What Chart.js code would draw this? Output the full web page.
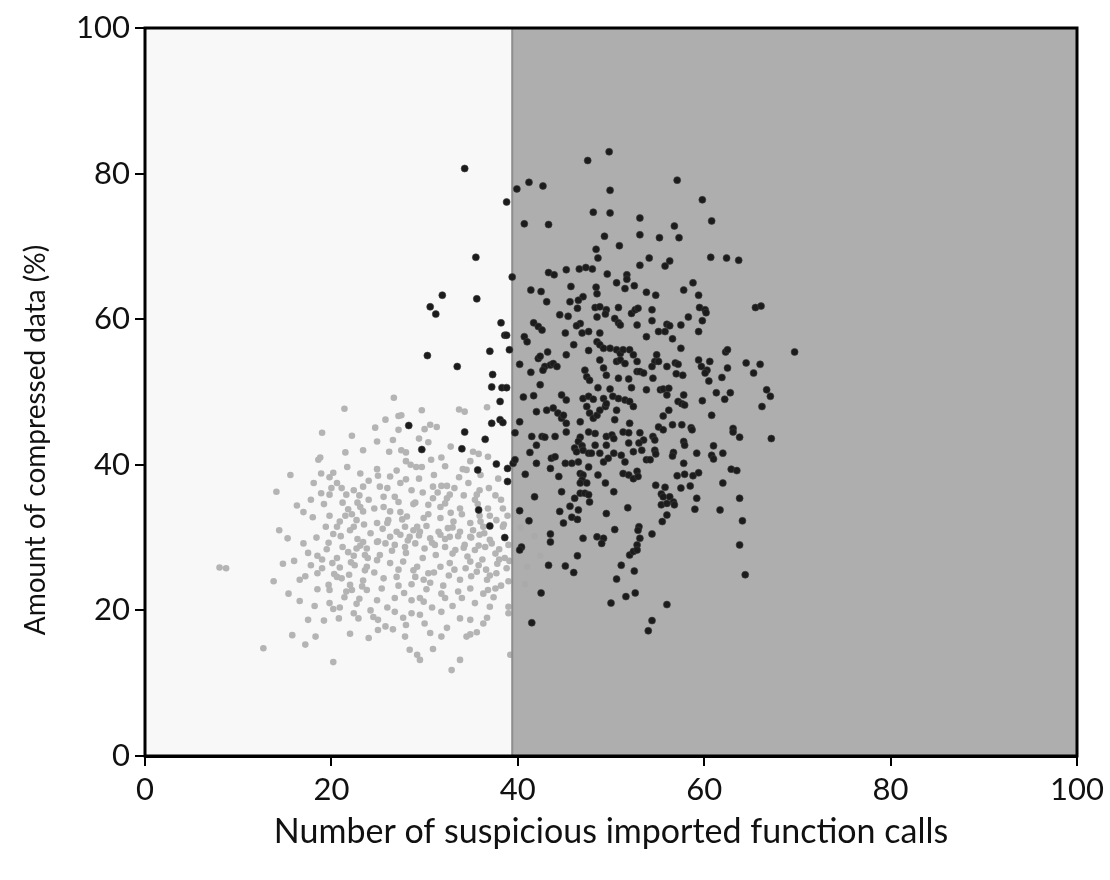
<!DOCTYPE html>
<html><head><meta charset="utf-8">
<script src="https://cdn.jsdelivr.net/npm/chart.js@4/dist/chart.umd.min.js"></script>
<style>html,body{margin:0;padding:0;background:#fff;}</style>
</head><body>
<canvas id="c" width="1110" height="880"></canvas>
<script>
const xTicks = [0, 20, 40, 60, 80, 100];
const yTicks = [0, 20, 40, 60, 80, 100];
const threshold = 39.4;
const xTitle = 'Number of suspicious imported function calls';
const yTitle = 'Amount of compressed data (%)';

const lightPoints = [
[21.4,47.7],[19.0,44.4],[21.5,41.7],[18.6,40.7],[18.8,41.0],[21.7,39.7],[15.6,38.6],[18.9,38.8],[20.2,38.9],[23.1,38.8],[19.8,38.3],[18.1,37.5],[14.1,36.3],[20.6,37.5],[21.1,36.8],[18.9,36.1],[19.8,35.9],[21.6,35.9],[22.4,36.5],[23.4,37.0],[16.3,34.4],[21.8,33.9],[23.1,34.2],[23.4,33.6],[18.0,32.8],[19.8,33.0],[20.9,32.2],[22.7,32.4],[19.4,31.5],[20.6,31.5],[22.4,31.5],
[15.3,29.9],[20.2,30.5],[19.7,29.3],[17.5,27.9],[18.5,27.5],[8.0,25.9],[8.7,25.8],[20.1,26.5],[20.9,25.9],[21.2,28.7],[21.8,28.0],[22.4,27.5],[22.1,26.6],[22.7,28.5],[23.1,28.9],[23.4,29.4],[23.8,28.5],[23.6,27.6],[23.8,26.0],[23.6,25.5],[18.5,25.1],[16.6,24.2],[17.2,24.7],[20.3,25.0],[20.6,24.6],[21.1,24.4],[19.7,23.5],[19.8,22.8],[18.5,22.9],[15.4,22.3],[16.6,21.3],[21.6,22.6],[22.0,23.5],[22.2,22.8],[23.3,23.3],[23.8,22.8],[20.2,20.2],[20.9,20.4],[22.7,20.9],[22.4,19.6],[22.9,18.9],[20.8,18.9],[17.5,18.7],[19.2,18.6],[18.3,16.4],[17.2,15.3],[12.7,14.8],[20.2,12.9],
[26.7,49.2],[29.7,47.5],[27.2,46.7],[27.5,46.8],[24.7,45.1],[30.6,45.5],[31.3,45.2],[30.0,44.9],[33.7,47.6],[34.3,47.3],[36.7,47.9],[24.9,43.2],[26.6,43.4],[29.4,43.6],[30.4,43.1],[26.2,41.8],[27.5,42.0],[28.0,41.7],[28.0,40.5],[30.7,40.7],[29.7,39.7],[24.9,39.4],[35.2,41.8],[35.8,41.5],[36.8,41.1],[34.9,40.5],[34.1,39.4],[34.5,39.3],[33.7,38.3],[29.1,39.7],[29.4,38.1],[26.3,38.4],[28.0,38.0],[27.4,37.5],[28.6,36.5],[25.2,37.0],[31.8,37.1],[32.4,37.1],[30.9,37.0],[34.7,37.5],[36.9,36.8],[35.9,36.5],[37.9,38.1],[32.7,35.9],[32.4,35.4],[32.2,34.7],[35.6,35.9],[35.4,35.2],[35.7,34.6],[30.9,35.4],[30.4,34.5],[26.8,35.6],[27.2,34.9],[25.6,35.6],[29.0,34.8],[33.8,34.0],[31.7,34.2],[38.4,34.0],[24.6,34.0],[26.3,33.6],[28.1,32.9],[26.1,32.4],[29.9,32.7],[31.7,32.7],[33.1,32.2],[34.9,32.0],[37.7,32.4],[24.9,32.0],[27.9,31.5],[29.2,31.5],[32.5,31.3],[36.3,31.5],[38.4,31.5],
[26.3,30.1],[27.4,30.4],[28.4,30.1],[29.5,30.8],[30.6,29.9],[31.7,30.4],[32.7,30.1],[33.8,30.8],[34.9,30.1],[35.9,30.4],[37.0,29.7],[24.9,29.4],[25.8,29.2],[26.8,29.0],[27.9,28.7],[29.0,29.2],[30.0,28.5],[31.1,29.0],[32.2,28.7],[33.3,28.3],[34.3,29.0],[35.4,28.3],[36.5,28.7],[37.6,27.8],
[24.9,26.9],[26.3,26.5],[27.7,26.7],[27.0,24.6],[25.6,24.4],[28.8,25.5],[29.9,24.2],[30.4,25.1],[31.7,26.0],[32.7,26.5],[33.8,24.2],[34.9,26.7],[35.6,25.3],[36.7,24.2],[37.7,25.1],[34.9,23.0],[36.3,22.3],[37.6,23.0],[31.8,22.3],[32.2,21.7],[29.5,21.7],[29.9,21.2],[28.6,21.4],[26.8,21.7],[24.9,21.4],[34.0,21.7],[37.0,20.5],[39.0,20.5],[31.8,19.8],[26.8,19.8],[28.6,19.6],[29.5,19.4],[24.5,19.1],[25.0,18.7],[27.7,19.0],[33.8,18.9],[34.9,18.7],[36.7,19.0],[39.0,19.6],[25.8,17.8],[25.0,17.3],[26.6,17.4],[36.3,18.2],[27.9,16.4],[30.6,16.9],[31.8,16.4],[34.5,16.4],[34.9,16.7],[28.4,14.6],[30.9,14.7],[29.2,13.9],[29.5,13.2],[33.8,13.2],[32.9,11.8],[39.2,13.9],
[21.0,30.2],[22.0,31.0],[22.8,29.8],[23.5,31.8],[24.2,30.6],[25.0,29.5],[25.5,31.2],[26.0,32.0],[27.0,30.8],[27.6,32.5],[28.2,29.6],[28.8,31.0],[29.4,30.3],[30.2,31.6],[30.8,29.3],[31.5,30.8],[32.2,29.8],[33.0,31.4],[33.6,30.2],[34.2,28.6],[35.0,30.0],[35.8,28.9],[36.4,30.6],[37.2,29.2],[38.0,28.4],[38.6,27.2],[37.8,26.4],[36.2,27.0],[34.6,27.4],[33.0,27.8],[31.2,27.6],[29.8,27.2],[28.0,27.9],[26.5,28.2],[25.2,27.6],[23.9,27.2],[22.5,26.2],[24.6,25.2],[27.2,25.6],[29.2,26.0],[31.0,25.2],[32.6,24.8],[35.0,24.7],[37.0,24.8],[38.8,25.8],[38.2,23.4],[36.8,22.8],[33.6,22.6],[30.2,22.9],[27.8,22.4],[25.4,23.0],[23.4,24.1],[21.9,24.9],[20.6,27.2],[19.5,28.4],[21.5,33.0],[22.8,34.8],[24.0,35.2],[25.6,34.2],[27.4,33.5],[28.8,34.6],[30.4,33.2],[31.4,36.2],[32.8,33.4],[34.2,35.8],[35.9,33.0],[36.8,34.0],[38.2,35.2],[38.9,33.0],[39.0,29.0],[39.1,26.8],[39.0,24.0],[38.5,31.8],
[17.0,33.5],[17.8,35.2],[18.4,30.0],[19.2,34.6],[20.0,36.8],[21.2,34.8],[22.2,33.2],[23.0,35.8],[24.0,37.8],[25.0,38.5],[26.0,36.8],[27.0,39.2],[28.5,40.0],[29.8,36.2],[31.0,38.6],[32.2,39.8],[33.2,36.8],[34.0,33.2],[35.2,31.0],[36.0,32.2],[37.0,33.0],[37.6,35.8],[36.0,38.6],[32.8,42.5],[31.8,41.0],[27.2,44.8],[25.8,46.2],[23.4,42.0],[22.2,44.0],[17.0,29.2],[16.0,26.8],[17.8,26.2],[19.0,27.0],[19.0,25.8],[18.2,20.6],[19.8,21.0],[21.4,21.8],[23.0,21.6],[24.2,20.0],[26.0,20.4],[27.2,23.4],[28.6,23.6],[29.0,24.6],[30.6,23.8],[32.0,23.4],[33.2,25.6],[34.4,25.8],[35.8,26.2],[36.6,25.6],[38.0,27.0],[37.4,21.8],[35.4,21.0],[33.0,20.6],[30.8,20.4],[28.0,18.0],[30.0,18.2],[32.4,17.6],[35.6,17.0],[24.0,16.2],[22.0,16.8],[13.8,24.0],[14.8,26.4],[15.8,16.6],[14.4,31.0],
[40.5,28.5],[41.0,26.0],[41.8,30.2],[40.8,23.6],[42.4,27.5],[40.3,31.4]
];

const darkPoints = [
[49.8,83.0],[49.9,77.7],[57.1,79.1],[59.8,76.4],[49.9,74.6],[60.8,73.5],[53.1,73.9],[56.8,72.8],[49.3,71.4],[53.1,71.6],[55.2,71.2],[57.3,71.2],[50.9,70.1],[60.7,68.5],[62.4,68.4],[63.7,68.1],[54.1,68.4],[53.1,67.4],[56.3,68.0],[55.8,67.3],[49.6,66.2],[51.7,66.1],[51.7,65.5],[50.6,65.0],[52.5,64.6],[51.5,64.2],[53.8,63.7],[54.8,63.3],[57.8,64.0],[58.8,65.0],[59.4,63.3],[48.4,64.4],
[34.3,80.7],[38.8,76.1],[39.9,77.9],[41.2,78.8],[42.7,78.3],[47.5,81.8],[48.1,74.7],[40.7,73.1],[43.3,73.0],[35.5,68.5],[48.4,69.6],[48.6,68.4],[39.4,65.8],[43.3,66.4],[43.9,66.1],[45.2,66.8],[46.6,66.9],[47.3,67.1],[48.0,66.9],[45.7,64.5],[41.4,64.0],[42.5,63.8],[31.9,63.3],[35.6,62.8],[47.0,63.1],[48.5,63.5],
[30.6,61.7],[31.2,60.7],[38.2,59.5],[38.6,57.8],[38.8,57.8],[37.0,55.6],[39.1,55.8],[30.3,55.0],[33.5,53.5],[37.3,52.4],[37.2,50.7],[38.3,50.6],[38.8,50.6],[38.1,48.7],[37.2,45.7],[38.1,46.2],[38.4,45.8],[28.3,45.4],[34.3,44.5],[36.5,43.5],[29.7,42.1],[34.0,42.2],[37.7,40.1],[35.7,39.3],[38.9,39.5],[38.9,37.7],[35.8,33.8],[37.0,31.6],[38.6,30.0],
[43.1,62.4],[45.6,62.4],[46.5,62.6],[48.3,61.6],[48.8,61.7],[49.5,61.3],[50.8,61.6],[46.4,61.5],[44.5,60.6],[45.4,60.4],[48.5,60.3],[49.4,60.7],[50.4,60.1],[50.8,59.5],[51.0,59.2],[52.2,60.8],[52.6,61.3],[52.9,61.5],[41.7,59.5],[42.2,59.0],[42.6,58.5],[46.7,59.4],[46.3,59.1],[52.8,59.2],[40.7,57.6],[41.0,56.9],[45.1,58.1],[46.9,58.1],[47.6,58.3],[48.8,58.1],[53.8,57.6],[46.0,56.5],[48.5,56.9],[48.8,56.5],[49.2,56.0],[49.9,56.0],[50.6,55.8],[51.0,55.3],[51.3,55.8],[52.0,55.8],[52.4,55.1],[47.6,55.7],[43.2,55.5],[42.2,54.6],[42.4,54.9],[45.2,55.1],[40.2,53.8],[42.9,53.5],[43.5,53.7],[43.8,53.9],[44.2,53.5],[42.7,53.0],[41.4,52.7],[48.8,54.4],[49.2,53.3],[49.5,52.3],[50.6,54.2],[51.0,54.4],[51.5,53.9],[52.8,54.2],[52.8,52.8],[53.1,52.8],[53.5,52.6],[47.2,53.0],[47.4,52.1],[47.7,51.6],[50.8,51.9],[51.9,51.8],[42.4,51.0],[48.6,50.6],[49.9,50.4],[52.2,50.6],[53.8,50.3],[40.6,49.3],[41.7,49.5],[44.7,49.6],[45.2,48.9],[47.0,49.1],[47.6,49.4],[48.1,49.0],[49.2,49.1],[50.2,49.4],[50.8,49.1],[51.5,48.9],[52.0,48.7],[52.4,48.0],[43.1,47.5],[43.8,47.8],[44.3,47.1],[44.7,46.4],[44.9,46.8],[47.4,48.0],[47.7,47.1],[48.1,46.4],[48.5,46.8],[48.8,47.5],[49.4,48.0],[49.5,48.4],[50.6,47.5],[42.0,47.3],[40.2,45.9],[45.2,45.7],[46.7,45.9],[50.4,46.2],[52.0,45.7],
[54.4,61.3],[54.4,59.8],[58.3,60.3],[59.5,61.6],[60.1,61.3],[60.2,60.9],[59.8,59.8],[65.5,61.6],[66.1,61.8],[56.0,59.3],[56.3,59.1],[57.5,59.2],[55.1,58.3],[55.8,58.3],[59.4,58.3],[56.6,57.3],[57.5,56.0],[54.9,55.1],[54.7,54.2],[55.1,54.2],[54.4,53.5],[56.9,54.0],[57.2,53.8],[56.0,53.5],[59.4,54.4],[60.6,54.2],[62.3,55.5],[62.5,55.8],[59.7,53.5],[60.3,53.0],[60.1,52.6],[62.5,53.3],[64.5,54.0],[66.0,53.8],[65.3,52.6],[69.7,55.5],[57.0,52.5],[57.7,52.3],[54.5,51.9],[60.5,51.5],[61.9,52.0],[55.3,50.3],[55.6,50.4],[56.2,50.5],[56.0,49.6],[57.8,49.6],[61.3,49.9],[62.8,49.9],[66.7,50.3],[67.1,49.4],[57.2,48.7],[57.6,48.4],[57.9,48.2],[59.8,48.8],[62.2,49.0],[66.2,48.0],[56.2,47.5],[55.6,46.7],[60.8,46.8],[55.1,45.2],[56.6,45.5],[57.6,45.5],[58.6,45.1],[63.1,45.0],
[39.7,44.4],[41.5,43.9],[42.6,43.9],[42.9,43.8],[44.0,43.9],[45.2,44.5],[46.7,43.8],[46.5,43.2],[46.9,42.6],[47.6,44.5],[48.3,44.3],[49.5,43.9],[50.1,44.1],[50.3,43.6],[51.3,44.5],[51.9,44.4],[53.1,44.4],[53.5,43.4],[42.0,42.7],[46.1,42.3],[47.0,42.0],[47.6,41.6],[46.3,41.8],[48.3,42.7],[49.5,42.7],[51.9,43.0],[53.0,43.0],[41.3,41.7],[43.6,40.9],[44.0,41.1],[45.1,40.2],[45.8,40.2],[46.5,40.4],[47.9,41.6],[48.8,41.6],[49.2,40.4],[49.7,40.9],[50.3,41.6],[51.1,41.3],[51.5,40.4],[52.4,41.8],[53.3,42.0],[53.8,40.7],[39.5,40.2],[39.7,40.7],[42.0,40.2],[43.5,39.5],[47.6,39.7],[46.7,38.8],[47.0,38.6],[46.9,37.9],[48.6,38.6],[44.4,38.4],[40.8,38.7],[51.3,38.8],[51.9,38.6],[52.4,38.1],[52.8,39.1],[52.9,38.4],[46.7,37.5],[47.4,37.5],[49.4,37.5],[44.7,36.3],[50.3,36.3],[46.7,36.1],[47.2,36.1],[47.6,35.9],[41.8,35.6],[46.1,35.4],[47.7,34.9],[45.6,34.3],[46.5,33.8],[40.2,33.7],[44.5,33.6],[49.5,33.3],[51.8,34.1],[45.8,32.8],[46.4,32.5],[41.2,32.3],[44.9,32.0],[50.4,31.1],[53.0,31.5],[52.9,31.0],[43.5,30.5],[43.5,29.4],[47.0,29.9],[48.5,30.1],[49.2,29.9],[49.0,29.2],[40.4,28.7],[53.1,29.9],[52.8,29.0],
[54.5,43.9],[54.7,43.4],[55.6,44.8],[58.7,44.8],[63.1,44.5],[63.8,43.8],[67.2,43.6],[57.8,43.2],[57.9,42.7],[61.0,42.6],[54.7,42.0],[54.8,41.5],[56.7,41.7],[56.6,41.2],[59.2,41.6],[60.8,41.3],[61.0,40.8],[62.0,41.6],[54.2,40.7],[57.8,40.2],[62.9,39.4],[63.5,39.2],[57.1,38.5],[57.9,38.7],[58.8,38.5],[59.4,38.9],[54.8,37.2],[55.8,36.9],[57.5,36.8],[58.5,37.1],[62.0,37.5],[55.4,36.0],[55.6,35.6],[56.3,35.6],[56.7,34.9],[56.8,34.5],[55.4,34.5],[56.0,34.7],[59.2,35.4],[63.8,35.4],[59.0,33.9],[61.7,33.8],[56.0,33.1],[55.5,32.2],[64.1,32.3],[54.4,30.5],[63.8,29.0],
[40.2,28.3],[46.4,27.5],[43.3,26.2],[45.1,26.1],[46.0,25.2],[52.0,27.6],[52.4,28.1],[52.8,28.3],[51.1,26.2],[52.5,25.4],[50.6,24.3],[42.5,22.4],[52.6,22.4],[51.6,21.9],[50.0,21.0],[56.0,20.8],[41.5,18.3],[54.4,18.6],[54.0,17.2],[64.4,24.9]
];

const FONT = 'Lato, "Open Sans", sans-serif';
const LIGHT_INDEX = 1;  // Chart.js draws higher indexes first

const regionPlugin = {
  id: 'regions',
  beforeDatasetsDraw(chart) {
    const {ctx, chartArea: a} = chart;
    ctx.save();
    ctx.fillStyle = '#f8f8f8';
    ctx.fillRect(a.left, a.top, a.right - a.left, a.bottom - a.top);
    ctx.restore();
  },
  afterDatasetDraw(chart, args) {
    if (args.index !== LIGHT_INDEX) return;
    const {ctx, chartArea: a, scales: {x}} = chart;
    const xp = x.getPixelForValue(threshold);
    ctx.save();
    ctx.fillStyle = 'rgba(169,169,169,0.94)';
    ctx.fillRect(xp, a.top, a.right - xp, a.bottom - a.top);
    ctx.strokeStyle = '#8e8e8e';
    ctx.lineWidth = 2;
    ctx.beginPath();
    ctx.moveTo(xp, a.top);
    ctx.lineTo(xp, a.bottom);
    ctx.stroke();
    ctx.restore();
  },
  afterDraw(chart) {
    const {ctx, chartArea: a} = chart;
    ctx.save();
    ctx.strokeStyle = '#000';
    ctx.lineWidth = 3;
    ctx.strokeRect(a.left, a.top, a.right - a.left, a.bottom - a.top);
    // vertical axis title, placed as in the reference (slightly below the axis centre)
    ctx.translate(36, 440);
    ctx.rotate(-Math.PI / 2);
    ctx.fillStyle = '#111';
    ctx.font = '28px ' + FONT;
    ctx.textAlign = 'center';
    ctx.textBaseline = 'middle';
    ctx.fillText(yTitle, 0, 0);
    ctx.restore();
  }
};

const axisCommon = (ticks) => ({
  type: 'linear', min: 0, max: 100,
  afterBuildTicks: s => { s.ticks = ticks.map(v => ({value: v})); },
  grid: {drawOnChartArea: false, drawTicks: true, tickLength: 10, color: '#000', lineWidth: 2},
  border: {display: true, color: '#000', width: 3},
  ticks: {color: '#111', font: {family: FONT, size: 31}, padding: 5, maxRotation: 0}
});

const xAxis = axisCommon(xTicks);
xAxis.title = {display: true, text: xTitle, color: '#111', font: {family: FONT, size: 34}, padding: {bottom: 28}};
xAxis.afterFit = s => { s.height = 124; };
const yAxis = axisCommon(yTicks);
yAxis.title = {display: false, text: yTitle};
yAxis.afterFit = s => { s.width = 145; };

new Chart(document.getElementById('c'), {
  type: 'scatter',
  data: {
    datasets: [
      {label: 'dark', data: darkPoints.map(p => ({x: p[0], y: p[1]})), pointRadius: 3.5, pointBackgroundColor: '#1c1c1c', pointBorderColor: 'rgba(60,60,60,0.6)', pointBorderWidth: 1},
      {label: 'light', data: lightPoints.map(p => ({x: p[0], y: p[1]})), pointRadius: 3.3, pointBackgroundColor: '#b4b4b4', pointBorderWidth: 0}
    ]
  },
  options: {
    responsive: false, animation: false, devicePixelRatio: 1,
    layout: {padding: {top: 28, right: 33, left: 0, bottom: 0}},
    plugins: {legend: {display: false}, tooltip: {enabled: false}},
    scales: {x: xAxis, y: yAxis}
  },
  plugins: [regionPlugin]
});
</script>
</body></html>
